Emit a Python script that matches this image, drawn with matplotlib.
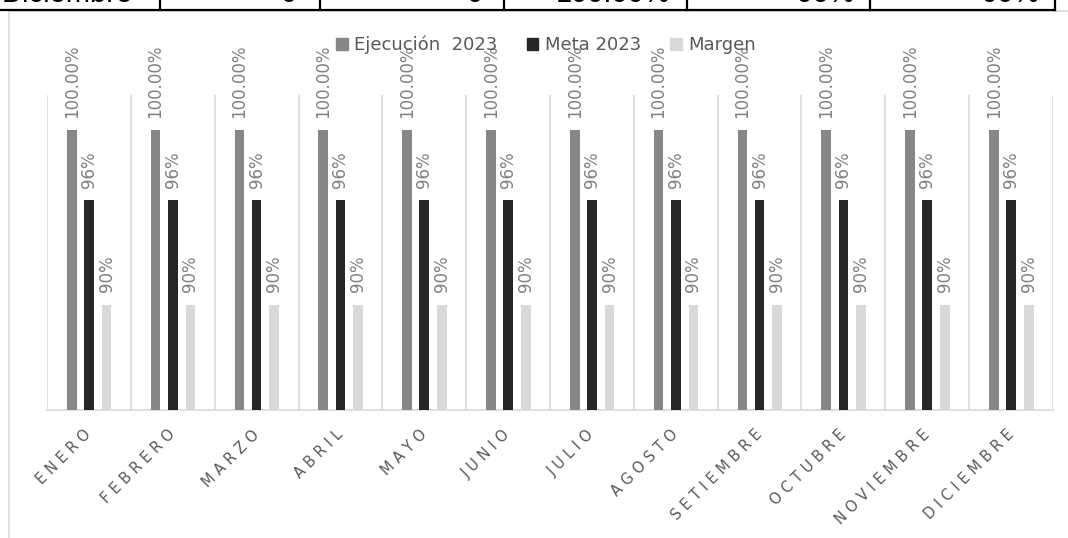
import matplotlib
matplotlib.use("Agg")
import matplotlib.pyplot as plt
from matplotlib.patches import Patch, Rectangle
import numpy as np

# Monthly data
months = ["ENERO", "FEBRERO", "MARZO", "ABRIL", "MAYO", "JUNIO",
          "JULIO", "AGOSTO", "SETIEMBRE", "OCTUBRE", "NOVIEMBRE", "DICIEMBRE"]
ejecucion = [100.0] * 12
meta = [96.0] * 12
margen = [90.0] * 12

# Last row of the summary table above the chart
tableRow = ["Diciembre", "0", "0", "100.00%", "96%", "90%"]

ejecColor = "#878787"
metaColor = "#262626"
margenColor = "#d9d9d9"
labelColor = "#808080"
textColor = "#595959"

fig = plt.figure(figsize=(10.68, 5.38), dpi=100)
W, H = 1068.0, 538.0

# Table fragment: bottom border, column rules, text (mostly cut off)
tableLine = plt.Line2D([0, 1055 / W], [1 - 9.5 / H, 1 - 9.5 / H],
                       transform=fig.transFigure, color="black", lw=1.6)
fig.add_artist(tableLine)
for cx in [160, 320, 504, 687, 870, 1055]:
    fig.add_artist(plt.Line2D([cx / W, cx / W], [1 - 9.5 / H, 1.0],
                              transform=fig.transFigure, color="black", lw=1.6))
fig.text(2 / W, 1 - 1.5 / H, tableRow[0], ha="left", va="baseline",
         fontsize=21, family="Liberation Sans", color="black")
for txt, rx in zip(tableRow[1:], [297, 483, 670, 855, 1040]):
    fig.text(rx / W, 1 - 1.5 / H, txt, ha="right", va="baseline",
             fontsize=21, family="Liberation Sans", color="black")

# Chart area border
fig.add_artist(Rectangle((9 / W, -0.1), 1.2, 1 - 11 / H + 0.1,
                         transform=fig.transFigure, fill=False,
                         edgecolor="#d9d9d9", lw=1.2))

ax = fig.add_axes([47 / W, 1 - 410 / H, 1006 / W, 315 / H])

x = np.arange(len(months))
barW = 0.115
offs = [-0.205, 0.0, 0.21]
series = [(ejecucion, ejecColor, "Ejecución  2023", "{:.2f}%"),
          (meta, metaColor, "Meta 2023", "{:.0f}%"),
          (margen, margenColor, "Margen", "{:.0f}%")]

for (vals, col, lab, fmt), off in zip(series, offs):
    vals = np.array(vals) / 100.0
    ax.bar(x + off, vals, width=barW, color=col, zorder=3)
    for xi, v in zip(x + off, vals):
        ax.annotate(fmt.format(v * 100), (xi, v), xytext=(0, 9),
                    textcoords="offset points", rotation=90,
                    ha="center", va="bottom", fontsize=12,
                    color=labelColor)

ax.set_xlim(-0.5, 11.5)
ax.set_ylim(0.84, 1.02)
ax.set_yticks([])
ax.set_xticks(np.arange(-0.5, 12), minor=True)
ax.grid(which="minor", axis="x", color="#d9d9d9", lw=1.2, zorder=0)
for s in ["left", "right", "top"]:
    ax.spines[s].set_visible(False)
ax.spines["bottom"].set_color("#d9d9d9")
ax.spines["bottom"].set_linewidth(1.2)
ax.tick_params(which="both", length=0)

ax.set_xticks(x)
ax.set_xticklabels(["\u2004".join(m) for m in months], rotation=45,
                   ha="right", va="center", rotation_mode="anchor",
                   fontsize=10.5, color=textColor)
ax.tick_params(axis="x", pad=16)

handles = [Patch(color=c, label=l) for _, c, l, _ in series]
fig.legend(handles=handles, loc="center", bbox_to_anchor=(546 / W, 1 - 45 / H),
           ncol=3, frameon=False, fontsize=13, labelcolor=textColor,
           handlelength=0.65, handleheight=0.65, handletextpad=0.35,
           columnspacing=1.6)

fig.savefig("out.png", dpi=100)
